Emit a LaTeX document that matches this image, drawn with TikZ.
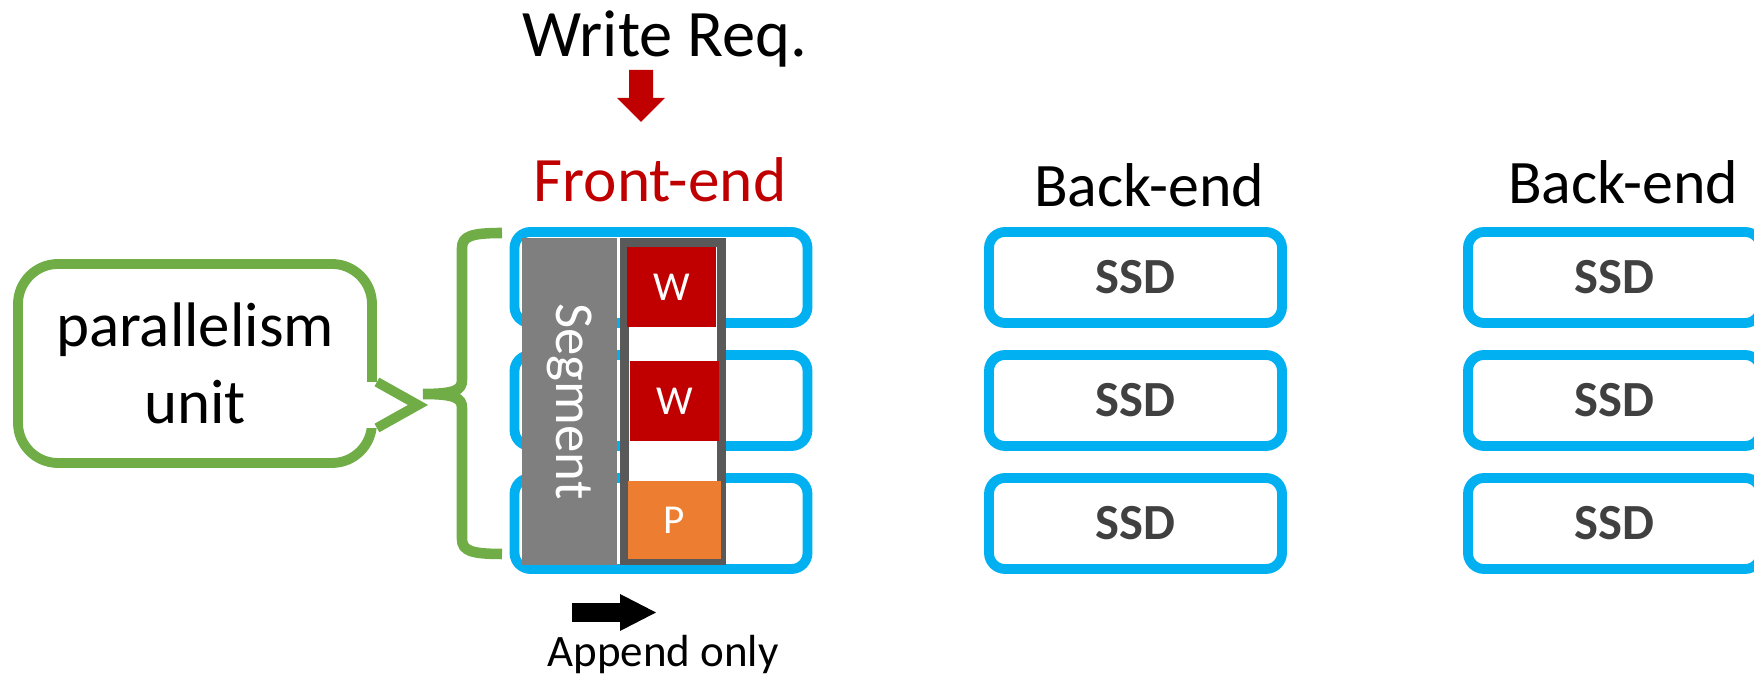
\documentclass[tikz,border=0pt]{standalone}
\usepackage{fontspec}
\setmainfont{Carlito}
\usepackage{tikz}
\usetikzlibrary{arrows.meta}
\usetikzlibrary{positioning}
\usepackage{xcolor}
\definecolor{ssdblue}{HTML}{00B0F0}
\definecolor{unitgreen}{HTML}{70AD47}
\definecolor{wred}{HTML}{C00000}
\definecolor{porange}{HTML}{ED7D31}
\definecolor{seggray}{HTML}{7F7F7F}
\definecolor{coldark}{HTML}{595959}
\definecolor{ssdtext}{HTML}{404040}

\begin{document}
\begin{tikzpicture}[
  ssdbox/.style={draw=ssdblue, line width=2.8pt, rounded corners=1.6mm, minimum width=2.93cm, minimum height=0.91cm, inner sep=0pt, text=ssdtext, font=\fontsize{14.4}{17}\selectfont\bfseries},
  title/.style={anchor=base, inner sep=0pt, font=\fontsize{17.6}{21}\selectfont},
  block/.style={minimum width=0.89cm, minimum height=0.8cm, inner sep=0pt, text=white, font=\fontsize{11.7}{14}\selectfont},
  fat/.style n args={3}{line width=#1, -{Triangle[length=#2, width=#3, line width=0pt]}},
]
\useasboundingbox (0,0) rectangle (17.54,6.76);
\clip (0,0) rectangle (17.54,6.76);

% front-end
\node[title, font=\fontsize{18.9}{22}\selectfont] (wreq) at (6.65,6.19) {Write Req.};
\node[title, font=\fontsize{18}{22}\selectfont, text=wred] (front) at (6.60,4.74) {Front-end};
\draw[wred, fat={0.24cm}{0.24cm}{0.48cm}] ([xshift=-2.4mm,yshift=-1.3mm]wreq.base) -- ([xshift=-1.9mm,yshift=8mm]front.base);

\foreach \y [count=\i] in {3.985,2.755,1.525}
  \node[ssdbox] (f\i) at (6.61,\y) {};

\node[fill=seggray, rotate=-90, minimum width=3.27cm, minimum height=0.95cm, inner sep=0pt, text=white, font=\fontsize{15.6}{18}\selectfont] (seg) at (5.695,2.745) {Segment};
\node[draw=coldark, fill=white, line width=0.9mm, minimum width=0.97cm, minimum height=3.18cm] (col) at (6.73,2.745) {};
\node[block, fill=wred] (w1) at (6.715,3.89) {W};
\node[block, fill=wred] (w2) at (6.745,2.745) {W};
\node[block, fill=porange, minimum width=0.93cm, minimum height=0.78cm] (p) at (6.745,1.56) {P};

% back-ends
\node[title] (back1) at (11.49,4.69) {Back-end};
\node[title] (back2) at (16.23,4.72) {Back-end};
\foreach \y [count=\i] in {3.985,2.755,1.525} {
  \node[ssdbox] (b\i) at (11.355,\y) {SSD};
  \node[ssdbox] (c\i) at (16.145,\y) {SSD};
}

% parallelism unit
\coordinate (tip) at (4.23,2.82);
\draw[unitgreen, line width=3pt] (5.02,4.43) .. controls (4.72,4.43) and (4.62,4.40) .. (4.62,4.28) -- (4.62,2.96) .. controls (4.62,2.86) and (4.55,2.82) .. (tip) .. controls (4.55,2.82) and (4.62,2.78) .. (4.62,2.68) -- (4.62,1.37) .. controls (4.62,1.25) and (4.72,1.22) .. (5.02,1.22);

\node[draw=unitgreen, line width=2.8pt, rounded corners=4mm, minimum width=3.54cm, minimum height=1.99cm, align=center, font=\fontsize{17.9}{22}\selectfont] (unit) at (1.95,3.125) {parallelism\\unit};
\coordinate (ptip) at ([xshift=-0.5mm,yshift=-1.1mm]tip);
\fill[white] ([xshift=-1.5mm,yshift=-1.85mm]unit.east) rectangle ([xshift=1.5mm,yshift=-6.45mm]unit.east);
\draw[unitgreen, line width=2.8pt] ([yshift=-1.85mm]unit.east) -- (ptip) -- ([yshift=-6.45mm]unit.east);

% append only
\node[anchor=base, inner sep=0pt, font=\fontsize{12.8}{15}\selectfont] (append) at (6.63,0.09) {Append only};
\draw[fat={0.19cm}{0.36cm}{0.37cm}] ([xshift=-9.1mm,yshift=5.45mm]append.base) -- ([xshift=-0.7mm,yshift=5.45mm]append.base);
\end{tikzpicture}
\end{document}
